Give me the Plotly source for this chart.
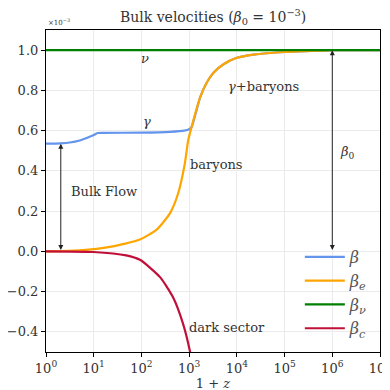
import plotly.graph_objects as go

# 1+z sample points and velocities (units of 1e-3)
z_beta = [1, 2, 3.16, 5.1, 7.1, 9.8, 12, 15.8, 100, 398, 794, 1000, 1122, 1698, 2344, 3236, 5248, 1.0e4, 22390, 58900, 1.51e5, 5.0e5, 1.0e6, 1.0e7]
beta = [0.535, 0.537, 0.541, 0.551, 0.563, 0.577, 0.588, 0.589, 0.590, 0.594, 0.600, 0.607, 0.617, 0.765, 0.839, 0.888, 0.930, 0.962, 0.978, 0.987, 0.992, 0.997, 1.0, 1.0]

z_e = [1, 5.1, 21.9, 93, 209, 398, 589, 813, 955, 1122, 1698, 2344, 3236, 5248, 1.0e4, 22390, 58900, 1.51e5, 5.0e5, 1.0e6, 1.0e7]
beta_e = [0.0, 0.005, 0.022, 0.059, 0.108, 0.19, 0.289, 0.437, 0.552, 0.617, 0.765, 0.839, 0.888, 0.930, 0.962, 0.978, 0.987, 0.992, 0.997, 1.0, 1.0]

z_nu = [1, 1.0e7]
beta_nu = [1.0, 1.0]

z_c = [1, 9.8, 48, 93, 245, 457, 741, 1047, 1580]
beta_c = [0.0, -0.003, -0.02, -0.042, -0.128, -0.227, -0.358, -0.50, -0.75]

x_ticks = [1, 10, 100, 1e3, 1e4, 1e5, 1e6, 1e7]
x_ticktext = ["10<sup>%d</sup>" % i for i in range(8)]
y_ticks = [-0.4, -0.2, 0.0, 0.2, 0.4, 0.6, 0.8, 1.0]
y_ticktext = ["\u22120.4", "\u22120.2", "0.0", "0.2", "0.4", "0.6", "0.8", "1.0"]

FONT = "DejaVu Serif, Liberation Serif, serif"
TC = "#333"

fig = go.Figure()
fig.add_trace(go.Scatter(x=z_beta, y=beta, mode="lines", line=dict(color="#6495ED", width=2.2, shape="spline", smoothing=0.5),
                         name="<i>β</i>"))
fig.add_trace(go.Scatter(x=z_e, y=beta_e, mode="lines", line=dict(color="#FFA500", width=2.2, shape="spline", smoothing=0.6),
                         name="<i>β<sub>e</sub></i>"))
fig.add_trace(go.Scatter(x=z_nu, y=beta_nu, mode="lines", line=dict(color="#008000", width=2.2),
                         name="<i>β<sub>ν</sub></i>"))
fig.add_trace(go.Scatter(x=z_c, y=beta_c, mode="lines", line=dict(color="#C0103A", width=2.2, shape="spline", smoothing=0.6),
                         name="<i>β<sub>c</sub></i>"))

ann = []
def txt(x, y, t, size=13):
    ann.append(dict(x=x, y=y, xref="x", yref="y", text=t, showarrow=False, font=dict(size=size, family=FONT, color=TC)))

txt(2.08, 0.96, "<i>ν</i>")
txt(2.12, 0.645, "<i>γ</i>")
txt(4.55, 0.82, "<i>γ</i>+baryons")
txt(3.58, 0.43, "baryons")
txt(1.22, 0.30, "Bulk Flow")
txt(6.31, 0.49, "<i>β</i><sub>0</sub>")
txt(3.79, -0.38, "dark sector")

# double-headed arrows
for xa, y0, y1 in [(0.31, 0.0, 0.535), (6.0, 0.0, 1.0)]:
    ann.append(dict(x=xa, y=y1, ax=xa, ay=y0, xref="x", yref="y", axref="x", ayref="y", text="",
                    showarrow=True, arrowhead=2, arrowside="end+start", arrowsize=1, arrowwidth=1, arrowcolor="#222"))

ann.append(dict(x=0, y=1, xref="paper", yref="paper", xanchor="left", yanchor="bottom", text="×10<sup>−3</sup>",
                showarrow=False, font=dict(size=7, family=FONT, color=TC), yshift=1))

fig.update_layout(
    width=390, height=390,
    margin=dict(l=38, r=18, t=22, b=46, autoexpand=False),
    plot_bgcolor="white", paper_bgcolor="white",
    font=dict(family=FONT, size=13, color=TC),
    title=dict(text="Bulk velocities (<i>β</i><sub>0</sub> = 10<sup>−3</sup>)", x=0.526, xanchor="center",
               y=0.976, yanchor="middle", font=dict(size=14, family=FONT, color=TC)),
    annotations=ann,
    showlegend=True,
    legend=dict(x=0.76, y=0.348, xanchor="left", yanchor="top", bgcolor="rgba(0,0,0,0)",
                font=dict(size=16, family=FONT, color="#555"), itemwidth=40),
)
fig.update_xaxes(type="log", range=[0, 7], tickvals=x_ticks, ticktext=x_ticktext, automargin=False,
                 showgrid=True, gridcolor="#ebebeb", gridwidth=1,
                 showline=True, linecolor="black", linewidth=1.2, mirror=True,
                 ticks="outside", ticklen=4, tickcolor="black",
                 tickfont=dict(size=13, family=FONT, color=TC),
                 title=dict(text="1 + <i>z</i>", font=dict(size=13, family=FONT, color=TC), standoff=0),
                 zeroline=False)
fig.update_yaxes(range=[-0.5, 1.1], tickvals=y_ticks, ticktext=y_ticktext, automargin=False,
                 showgrid=True, gridcolor="#ebebeb", gridwidth=1,
                 showline=True, linecolor="black", linewidth=1.2, mirror=True,
                 ticks="outside", ticklen=4, tickcolor="black",
                 tickfont=dict(size=13, family=FONT, color=TC),
                 zeroline=False)

fig.write_html("out.html")
